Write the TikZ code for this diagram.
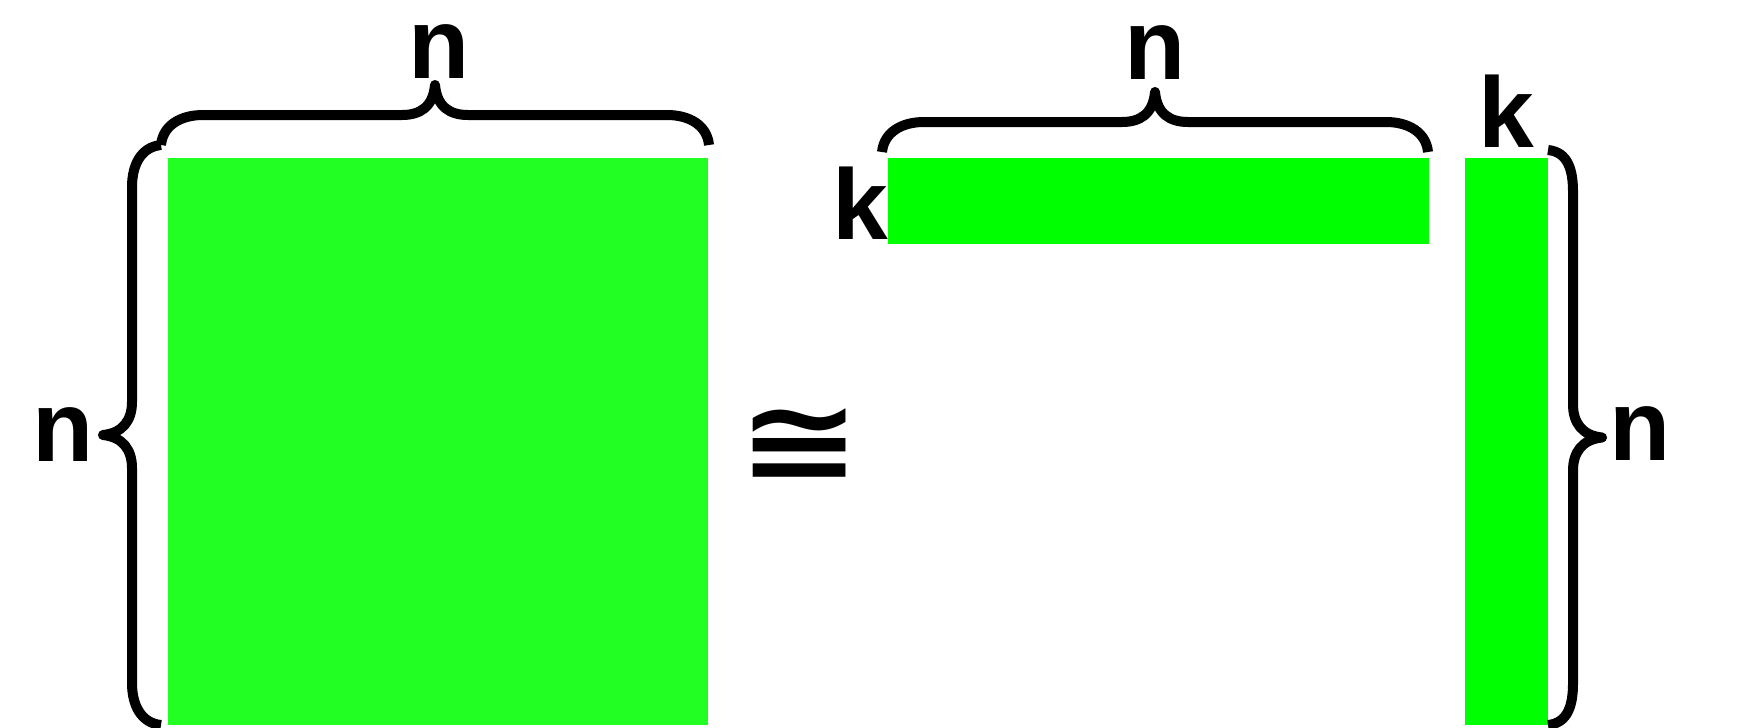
\documentclass[tikz,border=0pt]{standalone}
\usepackage{fontspec}
\setmainfont{Liberation Sans}
\newfontfamily\symfont{DejaVu Sans}
\usepackage{tikz}
\usetikzlibrary{positioning}

\definecolor{squaregreen}{RGB}{34,255,34}
\definecolor{stripgreen}{RGB}{0,255,0}

\tikzset{
  brace/.style={draw=black, line width=0.2cm, line join=round},
  dimlabel/.style={anchor=base, inner sep=0pt, font=\fontsize{57}{60}\selectfont\bfseries},
}

\begin{document}
\begin{tikzpicture}[x=0.02cm, y=-0.02cm]
        \useasboundingbox (0,0) rectangle (1746,727);
        % the matrices
        \fill[squaregreen] (168,158) rectangle (708,725);
        \fill[stripgreen] (888,158) rectangle (1429,244);
        \fill[stripgreen] (1465,158) rectangle (1548,725);
        % horizontal braces
        \foreach \xa/\xb/\yb in {161/709/145, 882/1428/152} {
            \pgfmathsetmacro\xm{(\xa+\xb)/2}
            \draw[brace] (\xa,\yb) .. controls +(2,-20) and +(-22,0) .. ({\xa+42},{\yb-30})
                -- ({\xm-33},{\yb-30}) .. controls +(18,0) and +(-2,22) .. (\xm,{\yb-60})
                .. controls +(2,22) and +(-18,0) .. ({\xm+33},{\yb-30})
                -- ({\xb-42},{\yb-30}) .. controls +(22,0) and +(-2,-20) .. (\xb,\yb);
        }
        % vertical braces
        \foreach \xb/\ya/\yb/\s/\l/\a in {161/145/725/-1/29/58, 1548/150/725/1/25/54} {
            \pgfmathsetmacro\ym{(\ya+\yb)/2}
            \draw[brace] (\xb,\ya) .. controls +(20*\s,2) and +(0,-22) .. ({\xb+\l*\s},{\ya+42})
                -- ({\xb+\l*\s},{\ym-33}) .. controls +(0,18) and +(-20*\s,-2) .. ({\xb+\a*\s},\ym)
                .. controls +(-20*\s,2) and +(0,-18) .. ({\xb+\l*\s},{\ym+33})
                -- ({\xb+\l*\s},{\yb-42}) .. controls +(0,22) and +(20*\s,-2) .. (\xb,\yb);
        }
        % labels
        \node[dimlabel] (nTopL) at (439,78) {n};
        \node[dimlabel] (nLeft) at (63,461) {n};
        \node[dimlabel] (nTopR) at (1155,79) {n};
        \node[dimlabel] (nRight) at (1640,460) {n};
        \node[dimlabel] (kLeft) at (860,239) {k};
        \node[dimlabel] (kTop) at (1506,147) {k};
        \node[inner sep=0pt, font=\symfont\bfseries\fontsize{68}{70}\selectfont] (iso) at (800,445) {\scalebox{1.24}[0.97]{≅}};
\end{tikzpicture}
\end{document}
